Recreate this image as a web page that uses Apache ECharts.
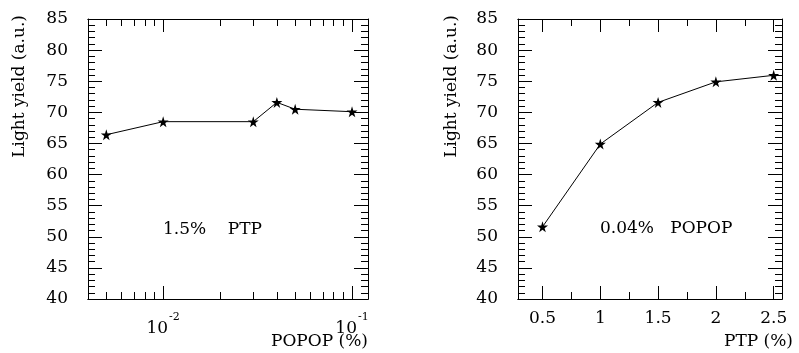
<!DOCTYPE html>
<html>
<head>
<meta charset="utf-8">
<script src="https://cdn.jsdelivr.net/npm/echarts@6/dist/echarts.min.js"></script>
<style>
html,body{margin:0;padding:0;background:#fff;}
#wrap{position:relative;width:799px;height:353px;}
#left{position:absolute;left:0;top:0;width:400px;height:353px;}
#right{position:absolute;left:400px;top:0;width:399px;height:353px;}
#err{position:absolute;left:0;top:0;font:11px sans-serif;color:red;}
</style>
</head>
<body>
<div id="wrap"><div id="left"></div><div id="right"></div><div id="err"></div></div>
<script>
// Left panel: 1.5% PTP, varying POPOP concentration (%)
const popopConc = [0.005, 0.01, 0.03, 0.04, 0.05, 0.1];
const yieldVsPopop = [66.4, 68.5, 68.5, 71.6, 70.5, 70.1];
// Right panel: 0.04% POPOP, varying PTP concentration (%)
const ptpConc = [0.5, 1, 1.5, 2, 2.5];
const yieldVsPtp = [51.6, 64.9, 71.6, 74.9, 75.95];
// Tick values and labels
const logMajor = [0.01, 0.1];
const logMinor = [0.005, 0.006, 0.007, 0.008, 0.009, 0.02, 0.03, 0.04, 0.05, 0.06, 0.07, 0.08, 0.09];
const logLabelExp = ['-2', '-1'];
const linMajor = [0.5, 1, 1.5, 2, 2.5];
const linMinor = [0.75, 1.25, 1.75, 2.25];
const yTitle = 'Light yield (a.u.)';
const leftXTitle = 'POPOP (%)';
const rightXTitle = 'PTP (%)';
const leftNote = '1.5%    PTP';
const rightNote = '0.04%   POPOP';

const FONT = 'DejaVu Serif';
const INK = '#000';
const star = 'path://M50,0 L61,35 L98,35 L68,57 L79,91 L50,70 L21,91 L32,57 L2,35 L39,35 Z';

function xAx(type, min, max, pos, ticks, len, labels, extra) {
  const a = {
    type: type, position: pos, min: min, max: max,
    axisLine: {show: true, onZero: false, lineStyle: {color: INK}},
    axisTick: {show: true, inside: true, length: len, customValues: ticks, lineStyle: {color: INK}},
    axisLabel: {show: false},
    splitLine: {show: false}
  };
  if (labels) {
    a.axisLabel = Object.assign({show: true, customValues: labels, color: INK, fontFamily: FONT, fontSize: 17}, extra);
  }
  return a;
}
function yAx(pos, labels) {
  return {
    type: 'value', position: pos, min: 40, max: 85, interval: 5,
    axisLine: {show: true, lineStyle: {color: INK}},
    axisTick: {show: true, inside: true, length: 14, lineStyle: {color: INK}},
    minorTick: {show: true, splitNumber: 5, length: 7, lineStyle: {color: INK}},
    axisLabel: {show: labels, margin: 20, color: INK, fontFamily: FONT, fontSize: 17},
    splitLine: {show: false}
  };
}
function txt(o, text) {
  return Object.assign({type: 'text', style: {text: text, fill: INK, font: '17px "DejaVu Serif"'}}, o);
}
function yTitleEl(cx) {
  return {type: 'text', x: cx, y: 15, rotation: Math.PI / 2,
    style: {text: yTitle, fill: INK, font: '17px "DejaVu Serif"', align: 'right', verticalAlign: 'middle'}};
}

const logLabel = {
  margin: 13,
  formatter: function (v) {
    const idx = v < 0.05 ? 0 : 1;
    return '{b|10}{s|' + logLabelExp[idx] + '}';
  },
  rich: {
    b: {fontFamily: FONT, fontSize: 17, color: INK, padding: [8, 0, 0, 0]},
    s: {fontFamily: FONT, fontSize: 11, color: INK, verticalAlign: 'top', padding: [0, 0, 0, 1]}
  }
};

try {
  const cl = echarts.init(document.getElementById('left'));
  cl.setOption({
    animation: false,
    grid: {left: 88, top: 19, width: 280, height: 280},
    xAxis: [
      xAx('log', 0.004, 0.1215, 'bottom', logMajor, 13, logMajor, logLabel),
      xAx('log', 0.004, 0.1215, 'bottom', logMinor, 7, null),
      xAx('log', 0.004, 0.1215, 'top', logMajor, 13, null),
      xAx('log', 0.004, 0.1215, 'top', logMinor, 7, null)
    ],
    yAxis: [yAx('left', true), yAx('right', false)],
    series: [{
      type: 'line', xAxisIndex: 0, yAxisIndex: 0,
      data: popopConc.map((x, i) => [x, yieldVsPopop[i]]),
      symbol: star, symbolSize: 11,
      lineStyle: {color: INK, width: 1}, itemStyle: {color: INK}
    }],
    graphic: [
      yTitleEl(20),
      txt({right: 32, top: 333}, leftXTitle),
      txt({left: 163, top: 221}, leftNote)
    ]
  });
  const cr = echarts.init(document.getElementById('right'));
  cr.setOption({
    animation: false,
    grid: {left: 118, top: 19, width: 264, height: 280},
    xAxis: [
      xAx('value', 0.288, 2.572, 'bottom', linMajor, 13, linMajor, {margin: 11}),
      xAx('value', 0.288, 2.572, 'bottom', linMinor, 7, null),
      xAx('value', 0.288, 2.572, 'top', linMajor, 13, null),
      xAx('value', 0.288, 2.572, 'top', linMinor, 7, null)
    ],
    yAxis: [yAx('left', true), yAx('right', false)],
    series: [{
      type: 'line', xAxisIndex: 0, yAxisIndex: 0,
      data: ptpConc.map((x, i) => [x, yieldVsPtp[i]]),
      symbol: star, symbolSize: 11,
      lineStyle: {color: INK, width: 1}, itemStyle: {color: INK}
    }],
    graphic: [
      yTitleEl(52),
      txt({right: 6, top: 333}, rightXTitle),
      txt({left: 200, top: 220}, rightNote)
    ]
  });
} catch (e) {
  document.getElementById('err').textContent = 'ERR: ' + e.message;
}
</script>
</body>
</html>
